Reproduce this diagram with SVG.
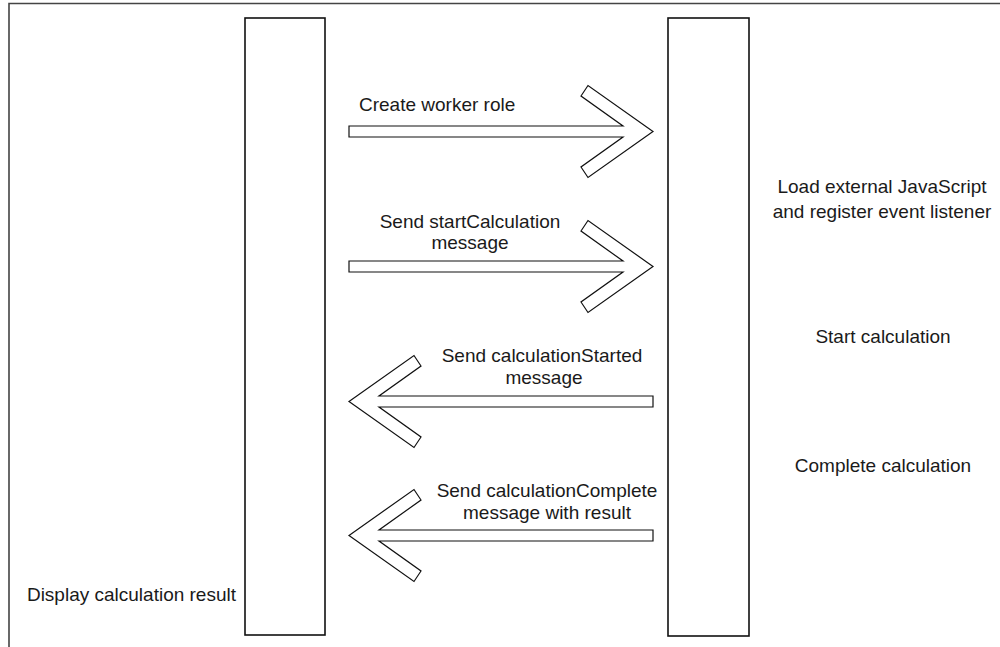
<svg xmlns="http://www.w3.org/2000/svg" width="1000" height="647" viewBox="0 0 1000 647">
<style>
  .lbl { font-family: "Liberation Sans", Arial, sans-serif; font-size: 19px; fill: #1a1a1a; }
  .mid { text-anchor: middle; }
  .bar { fill: #ffffff; stroke: #111111; stroke-width: 1.6; }
  .arr { fill: #ffffff; stroke: #111111; stroke-width: 1.2; stroke-linejoin: miter; }
</style>
<defs>
  <polygon id="arrowR" points="349,-5.5 623,-5.5 581,-35.5 588,-46 653,0 588,46 581,35.5 623,5.5 349,5.5"/>
  <polygon id="arrowL" points="653,-5.5 379,-5.5 421,-35.5 414,-46 349,0 414,46 421,35.5 379,5.5 653,5.5"/>
</defs>
<rect x="0" y="0" width="1000" height="647" fill="#ffffff"/>
<path d="M9,647 V3.5 H1000" fill="none" stroke="#444444" stroke-width="1.6"/>

<g id="client">
  <rect class="bar" x="245" y="18" width="80" height="617"/>
  <text class="lbl" x="236" y="601" text-anchor="end">Display calculation result</text>
</g>

<g id="worker">
  <rect class="bar" x="668" y="18" width="81" height="618"/>
  <text class="lbl mid" x="882" y="193">Load external JavaScript</text>
  <text class="lbl mid" x="882" y="218">and register event listener</text>
  <text class="lbl mid" x="883" y="343">Start calculation</text>
  <text class="lbl mid" x="883" y="472">Complete calculation</text>
</g>

<g id="connectors">
  <g id="msg1">
    <use href="#arrowR" class="arr" transform="translate(0,131.5)"/>
    <text class="lbl" x="359" y="111">Create worker role</text>
  </g>
  <g id="msg2">
    <use href="#arrowR" class="arr" transform="translate(0,266.5)"/>
    <text class="lbl mid" x="470" y="228">Send startCalculation</text>
    <text class="lbl mid" x="470" y="249">message</text>
  </g>
  <g id="msg3">
    <use href="#arrowL" class="arr" transform="translate(0,401.5)"/>
    <text class="lbl mid" x="542" y="362">Send calculationStarted</text>
    <text class="lbl mid" x="544" y="384">message</text>
  </g>
  <g id="msg4">
    <use href="#arrowL" class="arr" transform="translate(0,535.5)"/>
    <text class="lbl mid" x="547" y="497">Send calculationComplete</text>
    <text class="lbl mid" x="547" y="519">message with result</text>
  </g>
</g>
</svg>
